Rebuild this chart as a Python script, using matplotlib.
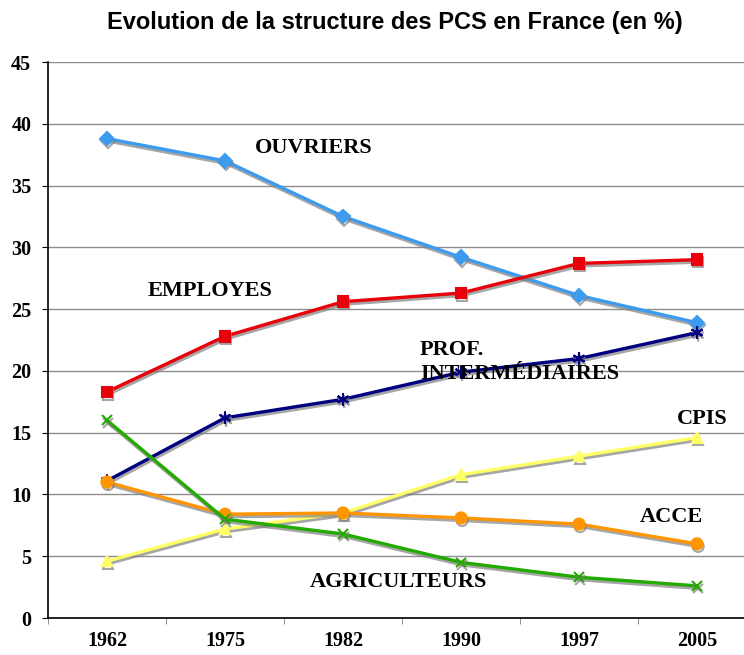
import matplotlib
matplotlib.use("Agg")
import matplotlib.pyplot as plt
import matplotlib.patheffects as pe
import numpy as np

years = ["1962", "1975", "1982", "1990", "1997", "2005"]
ouvriers = [38.8, 37.0, 32.5, 29.2, 26.1, 23.9]
employes = [18.3, 22.8, 25.6, 26.3, 28.7, 29.0]
prof_inter = [11.1, 16.2, 17.7, 19.9, 21.0, 23.1]
cpis = [4.6, 7.2, 8.5, 11.6, 13.1, 14.6]
acce = [11.0, 8.4, 8.5, 8.1, 7.6, 6.0]
agriculteurs = [16.0, 8.0, 6.8, 4.5, 3.3, 2.6]

yticks = [0, 5, 10, 15, 20, 25, 30, 35, 40, 45]

series = [
    (ouvriers, "#3D9BEF", "D", 7),
    (employes, "#E8000B", "s", 7.5),
    (prof_inter, "#000080", (6, 2, 0), 9),
    (cpis, "#FFFF66", "^", 7.5),
    (acce, "#FF9500", "o", 8),
    (agriculteurs, "#22AA00", "x", 7),
]

fig = plt.figure(figsize=(7.44, 6.55), dpi=100)
ax = fig.add_axes([48/744, 37/655, 708/744, 556/655])

x = np.arange(len(years))
shadow = [pe.SimpleLineShadow(offset=(0.8, -1.8), shadow_color="#808080", alpha=0.7), pe.Normal()]
for vals, col, mk, ms in series:
    ax.plot(x, vals, color=col, lw=2.4, marker=mk, markersize=ms,
            markeredgecolor=col, markerfacecolor=col, markeredgewidth=1.5,
            path_effects=shadow, zorder=3, clip_on=False)

ax.set_xlim(-0.5, 5.5)
ax.set_ylim(0, 45)
ax.set_yticks(yticks)
ax.set_xticks(x)
ax.set_xticklabels(years)
ax.set_xticks(np.arange(-0.5, 6, 1), minor=True)
ax.tick_params(axis="x", which="major", length=0, pad=9)
ax.tick_params(axis="x", which="minor", length=4, color="#808080")
ax.tick_params(axis="y", length=4, pad=8)
for lab in ax.get_xticklabels() + ax.get_yticklabels():
    lab.set_fontfamily("Liberation Serif")
    lab.set_fontweight("bold")
    lab.set_fontsize(14.5)

ax.grid(axis="y", color="#8c8c8c", lw=1)
ax.set_axisbelow(True)
for s in ["top", "right"]:
    ax.spines[s].set_visible(False)
ax.spines["left"].set_color("black")
ax.spines["left"].set_linewidth(1.2)
ax.spines["bottom"].set_color("black")
ax.spines["bottom"].set_linewidth(1.2)

fig.text(395/744, 1 - 22/655, "Evolution de la structure des PCS en France (en %)",
         ha="center", va="center", fontsize=17, fontweight="bold",
         family="Liberation Sans")

lbl = dict(fontfamily="Liberation Serif", fontweight="bold", fontsize=16,
           color="black", zorder=5)
ax.text(1.254, 38.0, "OUVRIERS", ha="left", va="center", **lbl)
ax.text(0.347, 26.5, "EMPLOYES", ha="left", va="center", **lbl)
ax.text(2.653, 21.7, "PROF.", ha="left", va="center", **lbl)
ax.text(2.653, 19.75, "INTERMÉDIAIRES", ha="left", va="center", **lbl)
ax.text(4.83, 16.1, "CPIS", ha="left", va="center", **lbl)
ax.text(4.517, 8.17, "ACCE", ha="left", va="center", **lbl)
ax.text(1.72, 2.9, "AGRICULTEURS", ha="left", va="center", **lbl)

fig.savefig("out.png", dpi=100)
